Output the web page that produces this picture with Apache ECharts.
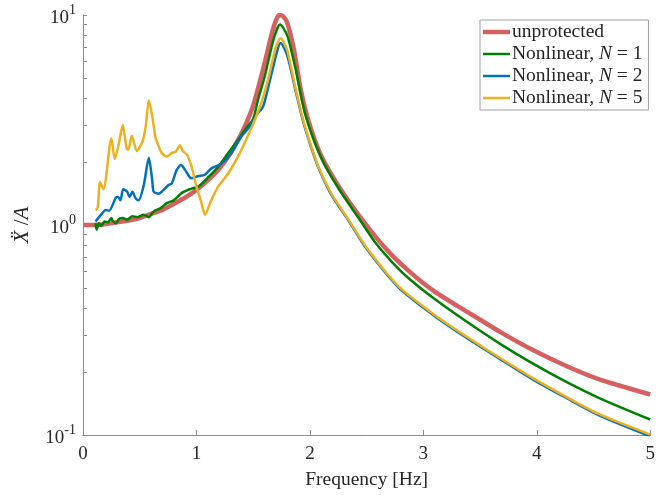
<!DOCTYPE html>
<html>
<head>
<meta charset="utf-8">
<script src="https://cdn.jsdelivr.net/npm/echarts@6/dist/echarts.min.js"></script>
<style>
  html, body { margin: 0; padding: 0; background: #fff; }
  #chart { width: 658px; height: 495px; }
</style>
</head>
<body>
<div id="chart"></div>
<script>
  // values
  var seriesNames = ['unprotected', 'Nonlinear, N = 1', 'Nonlinear, N = 2', 'Nonlinear, N = 5'];
  var xTicks = [0, 1, 2, 3, 4, 5];
  var yMajorTicks = [0.1, 1, 10];
  var yMinorTicks = [0.2, 0.3, 0.4, 0.5, 0.6, 0.7, 0.8, 0.9, 2, 3, 4, 5, 6, 7, 8, 9];

  var freqRed = [0, 0.1, 0.2, 0.3, 0.4, 0.5, 0.6, 0.7, 0.8, 0.9, 1.0, 1.1, 1.2, 1.3, 1.4, 1.45, 1.5, 1.57, 1.62, 1.66, 1.70, 1.73, 1.76, 1.80, 1.86, 1.92, 1.99, 2.10, 2.25, 2.45, 2.67, 2.87, 3.1, 3.39, 3.68, 3.97, 4.26, 4.55, 5.0];
  var valRed = [1.0, 1.0, 1.01, 1.03, 1.05, 1.08, 1.13, 1.18, 1.26, 1.35, 1.47, 1.63, 1.85, 2.2, 2.75, 3.15, 3.7, 5.07, 6.5, 8.0, 9.4, 10.0, 9.9, 9.2, 6.8, 4.4, 3.1, 2.13, 1.54, 1.08, 0.77, 0.605, 0.482, 0.385, 0.309, 0.253, 0.213, 0.184, 0.156];

  var freqGreen = [0.11, 0.12, 0.14, 0.16, 0.19, 0.22, 0.25, 0.26, 0.29, 0.32, 0.35, 0.39, 0.435, 0.48, 0.536, 0.58, 0.623, 0.68, 0.74, 0.80, 0.87, 0.94, 1.02, 1.1, 1.19, 1.28, 1.365, 1.43, 1.50, 1.54, 1.60, 1.685, 1.737, 1.80, 1.87, 1.96, 2.10, 2.25, 2.45, 2.58, 2.72, 2.87, 3.1, 3.39, 3.68, 3.97, 4.26, 4.55, 5.0];
  var valGreen = [1.02, 0.95, 1.02, 0.99, 1.04, 1.03, 1.08, 1.05, 1.02, 1.07, 1.08, 1.06, 1.10, 1.09, 1.12, 1.09, 1.16, 1.20, 1.27, 1.31, 1.42, 1.48, 1.53, 1.68, 1.89, 2.2, 2.53, 2.85, 3.2, 3.9, 5.07, 7.84, 9.0, 8.0, 5.65, 3.35, 2.09, 1.50, 1.04, 0.82, 0.67, 0.558, 0.444, 0.344, 0.271, 0.218, 0.179, 0.150, 0.1185];

  var freqBlue = [0.11, 0.16, 0.20, 0.23, 0.29, 0.31, 0.33, 0.354, 0.39, 0.41, 0.435, 0.464, 0.49, 0.536, 0.58, 0.61, 0.623, 0.667, 0.71, 0.754, 0.783, 0.826, 0.864, 0.90, 0.94, 0.96, 1.017, 1.07, 1.133, 1.22, 1.307, 1.394, 1.467, 1.539, 1.58, 1.60, 1.655, 1.713, 1.742, 1.80, 1.872, 1.945, 2.02, 2.076, 2.19, 2.34, 2.5, 2.785, 3.1, 3.39, 3.68, 3.97, 4.26, 4.55, 5.0];
  var valBlue = [1.04, 1.12, 1.18, 1.17, 1.35, 1.36, 1.31, 1.48, 1.44, 1.36, 1.44, 1.34, 1.31, 1.55, 2.09, 1.64, 1.44, 1.41, 1.47, 1.55, 1.58, 1.83, 1.93, 1.83, 1.69, 1.67, 1.71, 1.73, 1.86, 1.96, 2.19, 2.63, 2.93, 3.40, 3.6, 3.85, 5.07, 6.78, 7.35, 6.42, 4.4, 3.05, 2.27, 1.87, 1.39, 1.05, 0.77, 0.502, 0.368, 0.288, 0.229, 0.183, 0.150, 0.124, 0.0985];

  var freqYellow = [0.11, 0.13, 0.15, 0.18, 0.25, 0.28, 0.32, 0.35, 0.385, 0.40, 0.43, 0.475, 0.525, 0.555, 0.58, 0.61, 0.64, 0.67, 0.70, 0.74, 0.78, 0.82, 0.855, 0.88, 0.92, 0.96, 1.0, 1.04, 1.075, 1.13, 1.19, 1.28, 1.365, 1.45, 1.525, 1.58, 1.63, 1.70, 1.742, 1.80, 1.87, 1.945, 2.02, 2.076, 2.19, 2.34, 2.5, 2.785, 3.1, 3.39, 3.68, 3.97, 4.26, 4.55, 5.0];
  var valYellow = [1.18, 1.21, 1.6, 1.48, 2.58, 2.06, 2.5, 2.99, 2.31, 2.29, 2.66, 2.25, 2.5, 3.0, 3.93, 3.3, 2.6, 2.35, 2.18, 2.12, 2.2, 2.24, 2.40, 2.25, 2.15, 1.87, 1.52, 1.30, 1.12, 1.31, 1.52, 1.76, 2.11, 2.63, 3.27, 3.93, 4.88, 7.03, 7.75, 6.78, 4.55, 3.1, 2.3, 1.89, 1.41, 1.06, 0.78, 0.509, 0.373, 0.292, 0.232, 0.186, 0.152, 0.1256, 0.1005];

  var colors = ['#d46060', '#008000', '#0072bd', '#edb120'];
  var widths = [4.5, 2.5, 2.5, 2.5];

  function pairs(xs, ys) {
    return xs.map(function (x, i) { return [x, ys[i]]; });
  }
  var allData = [
    pairs(freqRed, valRed),
    pairs(freqGreen, valGreen),
    pairs(freqBlue, valBlue),
    pairs(freqYellow, valYellow)
  ];

  var font = '"Liberation Serif", "DejaVu Serif", serif';
  var textColor = '#262626';
  var axisColor = '#8c8c8c';

  var chart = echarts.init(document.getElementById('chart'));
  chart.setOption({
    animation: false,
    backgroundColor: '#fff',
    grid: { left: 83, right: 1, top: 15, bottom: 59 },
    legend: {
      orient: 'vertical',
      left: 480,
      top: 20,
      padding: [2, 6, 2, 3],
      itemGap: 2,
      itemWidth: 27,
      itemHeight: 14,
      symbolKeepAspect: true,
      borderColor: '#a0a0a0',
      borderWidth: 1,
      borderRadius: 0,
      backgroundColor: '#fff',
      data: seriesNames.map(function (n, i) {
        return { name: n, icon: 'path://M0,0h27v' + widths[i] + 'h-27z' };
      }),
      formatter: function (name) {
        return name.replace('N = ', '{i|N} = ');
      },
      textStyle: {
        fontFamily: font,
        fontSize: 19.5,
        color: textColor,
        padding: [0, 0, 0, -3],
        rich: {
          i: { fontFamily: font, fontSize: 19.5, fontStyle: 'italic', color: textColor }
        }
      }
    },
    xAxis: {
      type: 'value',
      min: 0,
      max: 5,
      interval: 1,
      name: 'Frequency [Hz]',
      nameLocation: 'middle',
      nameGap: 35,
      nameTextStyle: { fontFamily: font, fontSize: 19.5, color: textColor },
      axisLine: { lineStyle: { color: axisColor, width: 1 } },
      axisTick: { inside: true, length: 5, lineStyle: { color: axisColor } },
      axisLabel: {
        customValues: xTicks,
        fontFamily: font, fontSize: 19, color: textColor, margin: 10
      },
      splitLine: { show: false }
    },
    yAxis: {
      type: 'log',
      logBase: 10,
      min: 0.1,
      max: 10,
      name: '{i|X\u0308} /{i|A}',
      nameLocation: 'middle',
      nameGap: 50,
      nameRotate: 90,
      nameTextStyle: {
        fontFamily: font, fontSize: 21, color: textColor,
        rich: { i: { fontFamily: font, fontSize: 21, fontStyle: 'italic', color: textColor } }
      },
      axisLine: { show: true, lineStyle: { color: axisColor, width: 1 } },
      axisTick: {
        show: true,
        inside: true,
        length: 4,
        customValues: yMajorTicks.concat(yMinorTicks),
        lineStyle: { color: axisColor }
      },
      axisLabel: {
        customValues: yMajorTicks,
        margin: 7,
        formatter: function (v) {
          var e = Math.round(Math.log10(v));
          return '{b|10}{s|' + e + '}';
        },
        rich: {
          b: { fontFamily: font, fontSize: 19, color: textColor, padding: [6, 0, 0, 0] },
          s: { fontFamily: font, fontSize: 14, color: textColor, padding: [0, 0, 10, 0] }
        }
      },
      splitLine: { show: false }
    },
    series: allData.map(function (d, i) {
      return {
        name: seriesNames[i],
        type: 'line',
        data: d,
        symbol: 'none',
        smooth: 0.25,
        z: 2 + i,
        lineStyle: { color: colors[i], width: widths[i] },
        itemStyle: { color: colors[i] }
      };
    })
  });
</script>
</body>
</html>
